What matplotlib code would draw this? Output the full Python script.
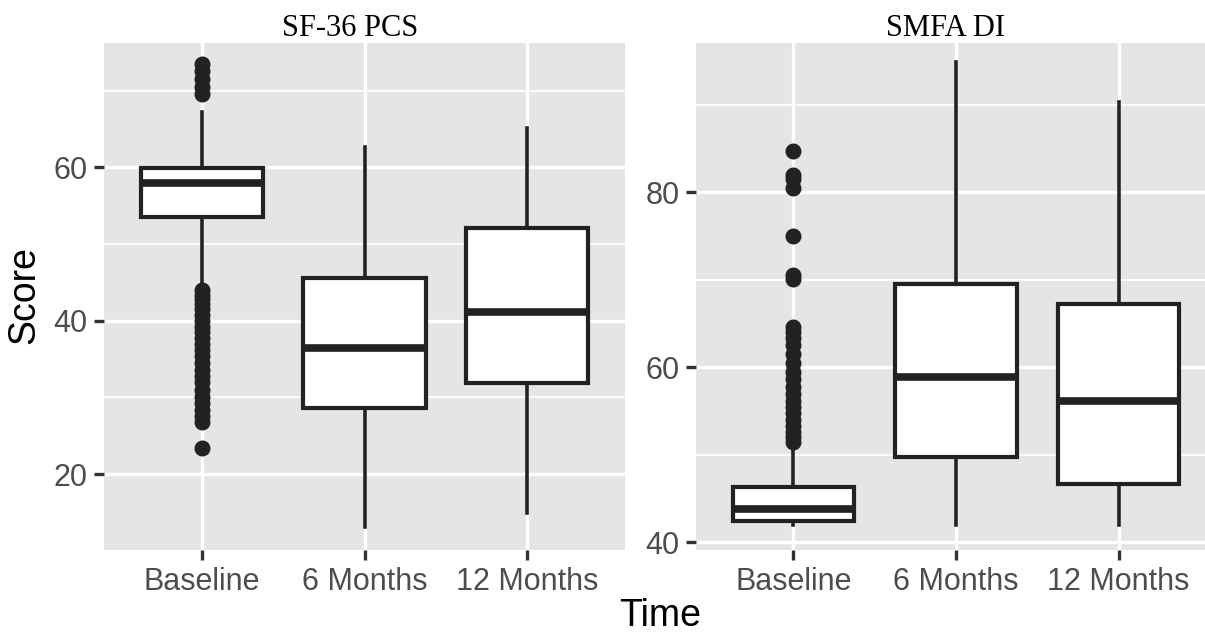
import matplotlib.pyplot as plt
from matplotlib.ticker import MultipleLocator

plt.rcParams["font.family"] = ["Liberation Sans", "DejaVu Sans"]

times = ["Baseline", "6 Months", "12 Months"]

# SF-36 PCS
pcs_q1 = [53.5, 28.6, 31.9]
pcs_med = [57.9, 36.4, 41.1]
pcs_q3 = [59.9, 45.5, 52.1]
pcs_lo = [44.9, 13.1, 14.9]
pcs_hi = [67.2, 62.6, 65.1]
pcs_out = [
    [73.5, 72.5, 71.5, 70.5, 69.5,
     44.0, 43.4, 42.8, 42.2, 41.5, 40.8, 40.0, 39.2, 38.5, 37.8, 37.0, 36.2,
     35.4, 34.5, 33.6, 32.8, 32.0, 31.0, 30.0, 29.2, 28.4, 27.6, 26.8, 23.4],
    [],
    [],
]

# SMFA DI
smfa_q1 = [42.4, 49.7, 46.6]
smfa_med = [43.8, 58.9, 56.1]
smfa_q3 = [46.3, 69.5, 67.2]
smfa_lo = [42.0, 42.0, 42.0]
smfa_hi = [50.9, 94.9, 90.4]
smfa_out = [
    [84.7, 82.0, 81.5, 80.5, 75.0, 70.6, 70.1, 64.6, 64.0, 63.3, 62.5, 61.5,
     60.5, 59.5, 58.7, 57.8, 57.0, 56.2, 55.5, 54.8, 54.0, 53.3, 52.6, 52.0, 51.5],
    [],
    [],
]

W, H = 1205, 633
fig = plt.figure(figsize=(W / 100, H / 100), dpi=100)

line_col = "#222222"


def make_stats(q1, med, q3, lo, hi, out):
    stats = []
    for i in range(len(times)):
        stats.append(dict(q1=q1[i], med=med[i], q3=q3[i], whislo=lo[i],
                          whishi=hi[i], fliers=out[i], label=times[i]))
    return stats


def panel(rect, stats, ylim, major, title, title_x):
    ax = fig.add_axes(rect)
    ax.set_facecolor("#e5e5e5")
    ax.set_axisbelow(True)
    ax.bxp(stats, positions=[1, 2, 3], widths=0.75, patch_artist=True,
           showcaps=False,
           boxprops=dict(facecolor="white", edgecolor=line_col, linewidth=3.0),
           medianprops=dict(color=line_col, linewidth=5.5, solid_capstyle="butt"),
           whiskerprops=dict(color=line_col, linewidth=2.6),
           flierprops=dict(marker="o", markerfacecolor=line_col,
                           markeredgecolor=line_col, markersize=10.5))
    ax.set_xlim(0.4, 3.6)
    ax.set_ylim(*ylim)
    ax.yaxis.set_major_locator(MultipleLocator(major))
    ax.yaxis.set_minor_locator(MultipleLocator(major / 2))
    ax.grid(which="major", color="white", linewidth=2.4)
    ax.grid(which="minor", axis="y", color="white", linewidth=1.3)
    ax.tick_params(which="minor", length=0)
    ax.tick_params(which="major", length=7, width=2.4, color="#333333",
                   labelcolor="#4d4d4d", labelsize=22, pad=5)
    for s in ax.spines.values():
        s.set_visible(False)
    fig.text(title_x / W, 1 - 28 / H, title, family="Liberation Serif",
             size=22, ha="center", va="center")
    return ax


bottom = 1 - 550 / H
height = (550 - 43) / H
panel([104 / W, bottom, 521 / W, height],
      make_stats(pcs_q1, pcs_med, pcs_q3, pcs_lo, pcs_hi, pcs_out),
      (10.1, 76.2), 20, "SF-36 PCS", 350)
panel([696 / W, bottom, 520 / W, height],
      make_stats(smfa_q1, smfa_med, smfa_q3, smfa_lo, smfa_hi, smfa_out),
      (39.1, 97.1), 20, "SMFA DI", 946)

fig.text(24 / W, 1 - 295 / H, "Score", rotation=90, size=27,
         ha="center", va="center")
fig.text(660 / W, 1 - 616 / H, "Time", size=27, ha="center", va="center")

fig.savefig("out.png", dpi=100)
